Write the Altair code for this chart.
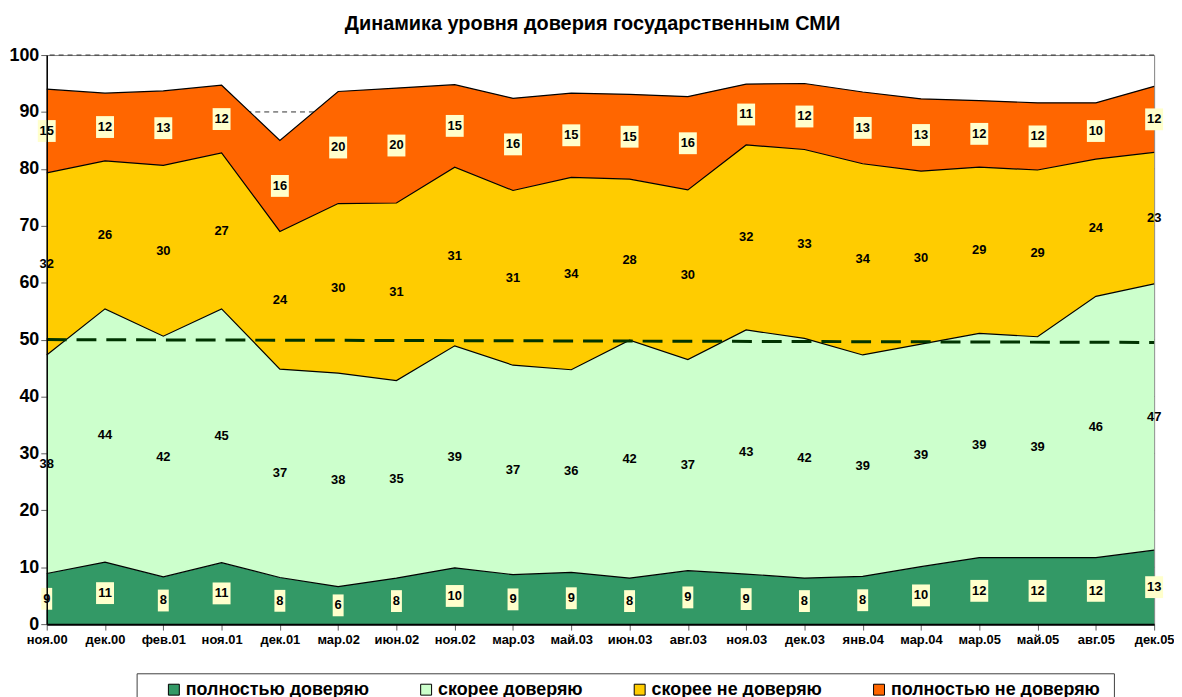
import altair as alt
import pandas as pd

FONT = "Liberation Sans, Arial, sans-serif"

categories = ["ноя.00", "дек.00", "фев.01", "ноя.01", "дек.01", "мар.02", "июн.02", "ноя.02",
              "мар.03", "май.03", "июн.03", "авг.03", "ноя.03", "дек.03", "янв.04", "мар.04",
              "мар.05", "май.05", "авг.05", "дек.05"]

series_names = ["полностью доверяю", "скорее доверяю", "скорее не доверяю", "полностью не доверяю"]
series_colors = ["#339966", "#CCFFCC", "#FFCC00", "#FF6600"]

full_trust = [8.9, 10.9, 8.3, 10.8, 8.2, 6.6, 8.1, 9.9, 8.7, 9.1, 8.1, 9.4, 8.8, 8.1, 8.4, 10.1, 11.7, 11.7, 11.7, 13.0]
rather_trust = [38.4, 44.5, 42.3, 44.6, 36.6, 37.5, 34.7, 39.0, 36.8, 35.6, 41.8, 37.1, 42.9, 42.1, 38.9, 39.1, 39.4, 38.8, 45.9, 46.8]
rather_not = [32.0, 26.0, 30.0, 27.4, 24.2, 29.8, 31.2, 31.4, 30.7, 33.8, 28.3, 29.8, 32.5, 33.2, 33.6, 30.4, 29.2, 29.3, 24.1, 23.1]
not_at_all = [14.7, 11.9, 13.1, 11.9, 16.0, 19.7, 20.2, 14.5, 16.2, 14.8, 14.9, 16.4, 10.7, 11.6, 12.6, 12.7, 11.7, 11.8, 9.9, 11.6]

full_trust_labels = [9, 11, 8, 11, 8, 6, 8, 10, 9, 9, 8, 9, 9, 8, 8, 10, 12, 12, 12, 13]
rather_trust_labels = [38, 44, 42, 45, 37, 38, 35, 39, 37, 36, 42, 37, 43, 42, 39, 39, 39, 39, 46, 47]
rather_not_labels = [32, 26, 30, 27, 24, 30, 31, 31, 31, 34, 28, 30, 32, 33, 34, 30, 29, 29, 24, 23]
not_at_all_labels = [15, 12, 13, 12, 16, 20, 20, 15, 16, 15, 15, 16, 11, 12, 13, 13, 12, 12, 10, 12]

boxed_series = [True, False, False, True]

trend_categories = ["ноя.00", "дек.05"]
trend_values = [50.0, 49.5]

grid_values = [10, 20, 30, 40, 50, 60, 70, 80, 90, 100]
y_ticks = [0, 10, 20, 30, 40, 50, 60, 70, 80, 90, 100]

title_text = "Динамика уровня доверия государственным СМИ"

values = [full_trust, rather_trust, rather_not, not_at_all]
labels = [full_trust_labels, rather_trust_labels, rather_not_labels, not_at_all_labels]

rows = []
for s_idx, name in enumerate(series_names):
    for i, cat in enumerate(categories):
        lab = str(labels[s_idx][i])
        rows.append({
            "cat": cat,
            "series": name,
            "value": values[s_idx][i],
            "label": lab,
            "order": s_idx,
            "boxed": boxed_series[s_idx],
            "nd": str(len(lab)),
        })
df = pd.DataFrame(rows)

trend_df = pd.DataFrame({"cat": trend_categories, "value": trend_values})
grid_df = pd.DataFrame({"v": grid_values})

x_scale = alt.Scale(domain=categories, type="point", padding=0)
y_scale = alt.Scale(domain=[0, 100], nice=False)

x_axis = alt.Axis(title=None, labelAngle=0, labelFont=FONT, labelFontSize=13, labelFontWeight="bold",
                  labelColor="black", domainColor="black", domainWidth=2, tickColor="#606060",
                  tickSize=6, labelPadding=4, grid=False, zindex=1)
y_axis = alt.Axis(title=None, values=y_ticks, labelFont=FONT, labelFontSize=18, labelFontWeight="bold",
                  labelColor="black", domainColor="black", domainWidth=1.5, tickColor="#606060",
                  tickSize=6, labelPadding=2, grid=False, zindex=1)

grid = alt.Chart(grid_df).mark_rule(stroke="#303030", strokeWidth=1, strokeDash=[5, 4]).encode(
    y=alt.Y("v:Q", scale=y_scale, axis=y_axis)
)

areas = alt.Chart(df).mark_area(opacity=1).encode(
    x=alt.X("cat:N", scale=x_scale, sort=categories, axis=x_axis),
    y=alt.Y("value:Q", stack="zero", scale=y_scale, axis=y_axis),
    color=alt.Color("series:N", scale=alt.Scale(domain=series_names, range=series_colors),
                    legend=alt.Legend(orient="none", legendX=119, legendY=630, direction="horizontal",
                                      columns=4, columnPadding=48, symbolType="square", symbolSize=121,
                                      symbolStrokeColor="black", symbolStrokeWidth=1, labelFont=FONT,
                                      labelFontSize=18, labelFontWeight="bold", labelColor="black",
                                      labelOffset=3, title=None, padding=0, labelLimit=400)),
    order=alt.Order("order:Q"),
)

stacked = alt.Chart(df).transform_stack(
    stack="value", groupby=["cat"], sort=[alt.SortField("order", order="ascending")], as_=["y0", "y1"]
).transform_calculate(mid="(datum.y0 + datum.y1) / 2")

outlines = stacked.mark_line(color="black", strokeWidth=1.2).encode(
    x=alt.X("cat:N", scale=x_scale, sort=categories),
    y=alt.Y("y1:Q", scale=y_scale),
    detail="series:N",
)

trend = alt.Chart(trend_df).mark_line(color="#003300", strokeWidth=3, strokeDash=[20, 10]).encode(
    x=alt.X("cat:N", scale=x_scale, sort=categories),
    y=alt.Y("value:Q", scale=y_scale),
)

boxes = stacked.transform_filter("datum.boxed").mark_point(
    filled=True, fill="#FFFFCC", opacity=1, strokeWidth=0, size=484
).encode(
    x=alt.X("cat:N", scale=x_scale, sort=categories),
    y=alt.Y("mid:Q", scale=y_scale),
    shape=alt.Shape("nd:N", scale=alt.Scale(domain=["1", "2"],
                    range=["M-0.5,-1H0.5V1H-0.5Z", "M-0.82,-1H0.82V1H-0.82Z"]), legend=None),
)

texts = stacked.mark_text(font=FONT, fontSize=13, fontWeight="bold", color="black", baseline="middle").encode(
    x=alt.X("cat:N", scale=x_scale, sort=categories),
    y=alt.Y("mid:Q", scale=y_scale),
    text="label:N",
)

legend_frame = alt.Chart(grid_df).mark_rect(fill="white", stroke="#404040", strokeWidth=1).encode(
    x=alt.value(91), x2=alt.value(1075), y=alt.value(623), y2=alt.value(660)
).transform_filter("datum.v == 10")

chart = alt.layer(grid, legend_frame, areas, outlines, trend, boxes, texts).properties(
    width=1115, height=573,
    title=alt.Title(title_text, font=FONT, fontSize=20, fontWeight="bold", color="black",
                    anchor="middle", offset=12, dx=-8),
    autosize=alt.AutoSizeParams(type="none"),
    padding={"left": 39, "top": 45, "right": 20, "bottom": 71},
).configure_view(stroke="#808080", strokeWidth=1).resolve_scale(shape="independent")

chart.save("out.html", embed_options={"renderer": "svg", "actions": False})
